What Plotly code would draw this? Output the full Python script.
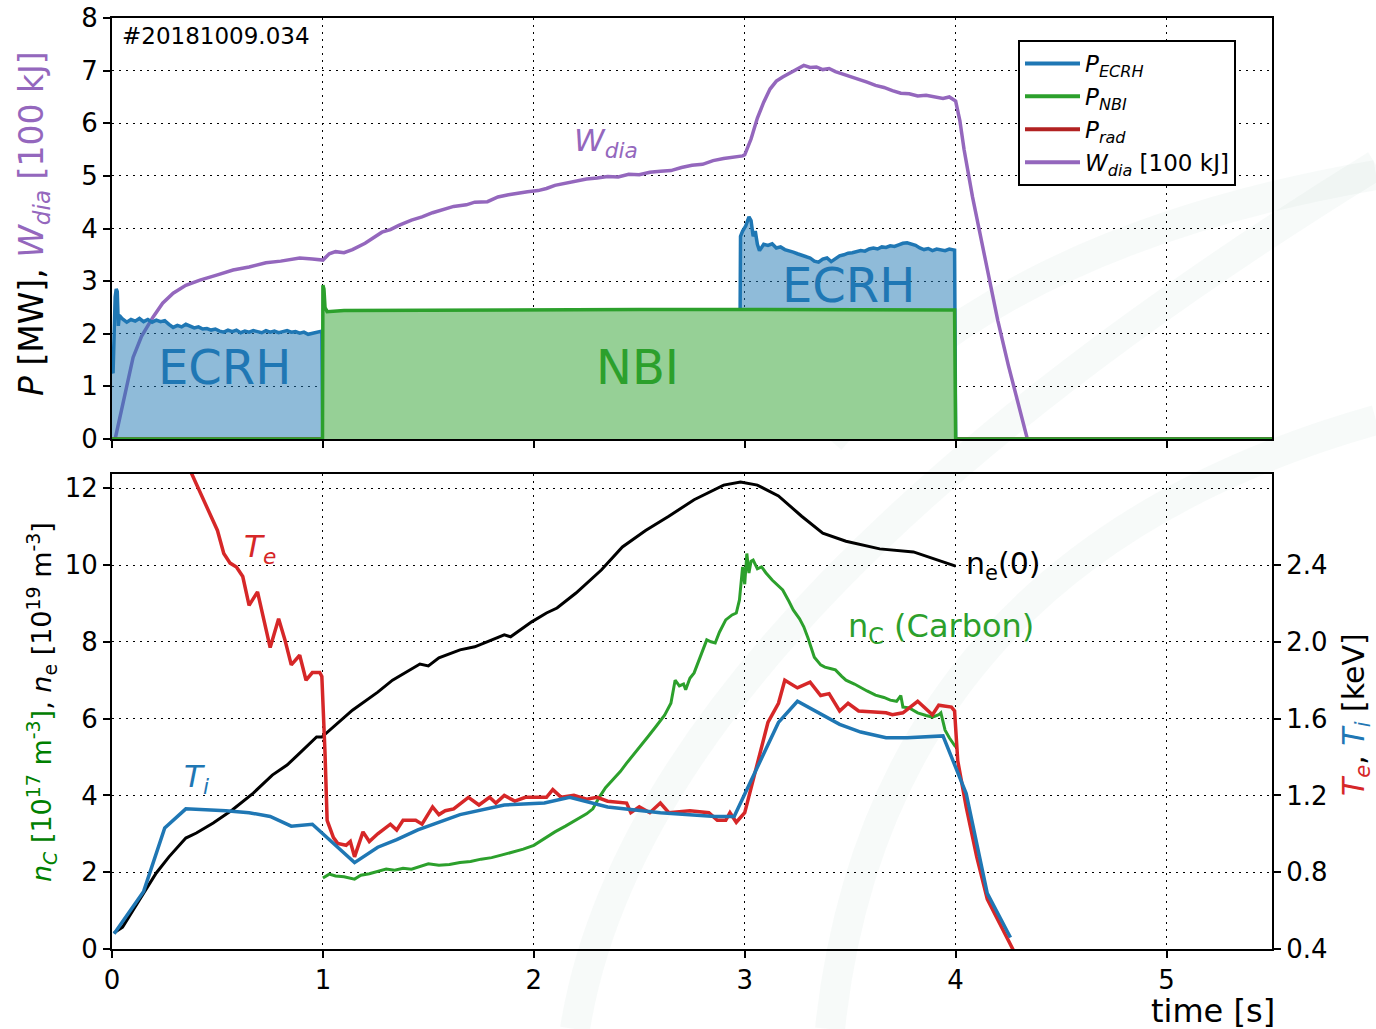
import plotly.graph_objects as go

# ---------------- heating / energy (upper panel) ----------------
ecrh_t = [0.0, 0.005, 0.015, 0.02, 0.025, 0.03, 0.035, 0.05, 0.07, 0.09, 0.11, 0.13, 0.15, 0.17,
          0.19, 0.21, 0.23, 0.25, 0.27, 0.29, 0.31, 0.33, 0.35, 0.37, 0.39, 0.41, 0.43, 0.45,
          0.47, 0.49, 0.51, 0.53, 0.55, 0.57, 0.59, 0.61, 0.63, 0.65, 0.67, 0.69, 0.71, 0.73,
          0.75, 0.77, 0.79, 0.81, 0.83, 0.85, 0.87, 0.89, 0.91, 0.93, 0.95, 0.97, 0.99, 0.995,
          1.0, 2.975, 2.98, 2.99, 3.005, 3.02, 3.03, 3.04, 3.05, 3.06, 3.07, 3.09, 3.11, 3.13,
          3.15, 3.17, 3.19, 3.21, 3.23, 3.25, 3.27, 3.29, 3.31, 3.33, 3.35, 3.37, 3.39, 3.41,
          3.43, 3.45, 3.47, 3.49, 3.51, 3.53, 3.55, 3.57, 3.59, 3.61, 3.63, 3.65, 3.67, 3.69,
          3.71, 3.73, 3.75, 3.77, 3.79, 3.81, 3.83, 3.85, 3.87, 3.89, 3.91, 3.93, 3.95, 3.97,
          3.995, 4.0, 5.5]
ecrh_p = [1.30, 1.25, 2.70, 2.85, 2.80, 2.15, 2.35, 2.28, 2.22, 2.27, 2.24, 2.29, 2.23, 2.27,
          2.22, 2.26, 2.23, 2.25, 2.18, 2.12, 2.16, 2.13, 2.18, 2.14, 2.11, 2.13, 2.09, 2.10,
          2.07, 2.09, 2.05, 2.03, 2.07, 2.04, 2.07, 2.02, 2.05, 2.03, 2.06, 2.04, 2.02, 2.06,
          2.03, 2.05, 2.02, 2.04, 2.06, 2.03, 2.04, 2.01, 2.03, 1.99, 2.01, 2.03, 2.05, 2.05,
          0.0, 0.0, 3.85, 3.95, 4.05, 4.22, 4.15, 3.85, 3.95, 3.70, 3.58, 3.70, 3.68, 3.71,
          3.63, 3.65, 3.60, 3.58, 3.55, 3.52, 3.49, 3.46, 3.44, 3.38, 3.36, 3.42, 3.44, 3.37,
          3.42, 3.48, 3.50, 3.53, 3.54, 3.56, 3.58, 3.57, 3.61, 3.63, 3.61, 3.65, 3.64, 3.67,
          3.66, 3.69, 3.72, 3.73, 3.70, 3.68, 3.63, 3.60, 3.62, 3.58, 3.61, 3.60, 3.58, 3.61,
          3.59, 0.0, 0.0]

nbi_t = [0.0, 0.998, 1.0, 1.005, 1.01, 1.02, 1.1, 1.5, 2.0, 2.5, 3.0, 3.5, 3.995, 4.0, 5.5]
nbi_p = [0.0, 0.0, 2.92, 2.85, 2.50, 2.42, 2.44, 2.45, 2.45, 2.46, 2.46, 2.46, 2.45, 0.0, 0.0]

prad_t = [0.0, 5.5]
prad_p = [0.0, 0.0]

wdia_t = [0.015, 0.06, 0.1, 0.14, 0.195, 0.24, 0.29, 0.35, 0.417, 0.5, 0.574, 0.65, 0.73, 0.8,
          0.89, 0.95, 0.995, 1.0, 1.03, 1.06, 1.1, 1.14, 1.2, 1.25, 1.28, 1.32, 1.36, 1.42,
          1.47, 1.52, 1.57, 1.62, 1.68, 1.72, 1.78, 1.83, 1.88, 1.92, 1.97, 2.02, 2.06, 2.1,
          2.15, 2.2, 2.25, 2.3, 2.35, 2.4, 2.45, 2.5, 2.55, 2.6, 2.65, 2.7, 2.75, 2.8, 2.85,
          2.9, 2.95, 2.99, 3.0, 3.03, 3.06, 3.09, 3.12, 3.15, 3.18, 3.21, 3.25, 3.28, 3.31,
          3.34, 3.37, 3.40, 3.43, 3.46, 3.5, 3.54, 3.58, 3.62, 3.66, 3.70, 3.74, 3.78, 3.82,
          3.86, 3.90, 3.94, 3.97, 4.0, 4.02, 4.04, 4.08, 4.12, 4.16, 4.20, 4.25, 4.30, 4.34, 5.5]
wdia_w = [0.0, 0.80, 1.55, 1.95, 2.32, 2.58, 2.77, 2.92, 3.02, 3.12, 3.21, 3.27, 3.35, 3.38,
          3.44, 3.42, 3.40, 3.40, 3.52, 3.56, 3.54, 3.60, 3.72, 3.85, 3.93, 3.98, 4.06, 4.16,
          4.22, 4.30, 4.36, 4.42, 4.45, 4.50, 4.51, 4.60, 4.64, 4.67, 4.70, 4.72, 4.76, 4.82,
          4.86, 4.90, 4.94, 4.96, 4.99, 4.98, 5.03, 5.02, 5.07, 5.09, 5.10, 5.16, 5.20, 5.22,
          5.29, 5.33, 5.35, 5.38, 5.40, 5.70, 6.10, 6.40, 6.65, 6.80, 6.88, 6.95, 7.04, 7.10,
          7.06, 7.07, 7.02, 7.04, 6.98, 6.94, 6.90, 6.84, 6.78, 6.72, 6.68, 6.62, 6.57, 6.56,
          6.52, 6.53, 6.50, 6.47, 6.50, 6.42, 6.05, 5.50, 4.60, 3.80, 3.05, 2.25, 1.40, 0.60,
          0.0, 0.0]

# ---------------- profiles (lower panel) ----------------
ne_t = [0.01, 0.05, 0.13, 0.21, 0.27, 0.35, 0.40, 0.48, 0.57, 0.67, 0.76, 0.83, 0.89, 0.97,
        0.995, 1.05, 1.14, 1.26, 1.33, 1.46, 1.50, 1.55, 1.65, 1.72, 1.86, 1.89, 1.99, 2.06,
        2.11, 2.20, 2.32, 2.42, 2.53, 2.64, 2.76, 2.90, 2.98, 3.06, 3.16, 3.27, 3.37, 3.48,
        3.64, 3.80, 3.93, 4.0]
ne_v = [0.42, 0.57, 1.28, 1.98, 2.40, 2.89, 3.02, 3.28, 3.62, 4.06, 4.53, 4.79, 5.10, 5.52,
        5.52, 5.78, 6.22, 6.69, 7.00, 7.42, 7.37, 7.58, 7.79, 7.87, 8.18, 8.13, 8.52, 8.75,
        8.88, 9.27, 9.87, 10.47, 10.90, 11.27, 11.70, 12.08, 12.16, 12.08, 11.80, 11.27, 10.83,
        10.62, 10.42, 10.34, 10.10, 9.97]

nc_t = [1.0, 1.03, 1.06, 1.1, 1.15, 1.18, 1.22, 1.26, 1.3, 1.34, 1.38, 1.42, 1.46, 1.5, 1.55,
        1.6, 1.65, 1.7, 1.75, 1.8, 1.85, 1.9, 1.95, 2.0, 2.05, 2.1, 2.15, 2.2, 2.25, 2.28,
        2.31, 2.34, 2.38, 2.41, 2.44, 2.48, 2.51, 2.54, 2.58, 2.62, 2.65, 2.67, 2.69, 2.71,
        2.72, 2.74, 2.76, 2.79, 2.82, 2.84, 2.86, 2.88, 2.91, 2.94, 2.96, 2.975, 2.99, 3.0,
        3.01, 3.02, 3.03, 3.04, 3.06, 3.08, 3.10, 3.13, 3.16, 3.18, 3.21, 3.23, 3.26, 3.28,
        3.30, 3.33, 3.36, 3.38, 3.41, 3.43, 3.46, 3.48, 3.52, 3.55, 3.58, 3.62, 3.66, 3.69,
        3.72, 3.74, 3.75, 3.78, 3.82, 3.86, 3.89, 3.92, 3.93, 3.95, 3.97, 4.0]
nc_v = [1.85, 1.95, 1.90, 1.88, 1.82, 1.92, 1.96, 2.02, 2.08, 2.05, 2.10, 2.08, 2.15, 2.22, 2.18,
        2.20, 2.25, 2.28, 2.34, 2.38, 2.45, 2.52, 2.60, 2.70, 2.88, 3.05, 3.20, 3.36, 3.52, 3.65,
        3.95, 4.20, 4.45, 4.62, 4.84, 5.10, 5.30, 5.52, 5.80, 6.09, 6.40, 7.00, 6.85, 6.90,
        6.75, 7.05, 7.19, 7.60, 8.05, 8.00, 7.97, 8.25, 8.57, 8.70, 8.75, 9.09, 9.95, 9.50,
        10.30, 9.79, 10.10, 10.13, 9.90, 9.95, 9.80, 9.61, 9.45, 9.35, 9.05, 8.83, 8.60, 8.39,
        8.10, 7.60, 7.40, 7.34, 7.30, 7.27, 7.10, 7.00, 6.90, 6.80, 6.72, 6.61, 6.55, 6.48,
        6.45, 6.60, 6.30, 6.28, 6.15, 6.08, 6.04, 6.10, 6.15, 5.70, 5.50, 5.26]

te_t = [0.33, 0.38, 0.50, 0.53, 0.56, 0.59, 0.62, 0.65, 0.69, 0.72, 0.75, 0.79, 0.82, 0.85,
        0.89, 0.92, 0.95, 0.985, 0.995, 1.01, 1.02, 1.05, 1.07, 1.11, 1.13, 1.15, 1.19, 1.22,
        1.26, 1.32, 1.35, 1.38, 1.44, 1.47, 1.52, 1.55, 1.58, 1.62, 1.69, 1.74, 1.79, 1.82,
        1.86, 1.91, 1.96, 2.01, 2.06, 2.09, 2.13, 2.19, 2.25, 2.30, 2.35, 2.44, 2.46, 2.50,
        2.55, 2.60, 2.64, 2.74, 2.83, 2.87, 2.91, 2.93, 2.96, 3.0, 3.04, 3.11, 3.16, 3.19,
        3.25, 3.31, 3.36, 3.40, 3.45, 3.49, 3.54, 3.67, 3.70, 3.75, 3.82, 3.89, 3.92, 3.98,
        3.995, 4.01, 4.05, 4.10, 4.15, 4.21, 4.28]
te_v = [2.98, 2.87, 2.58, 2.46, 2.41, 2.39, 2.34, 2.19, 2.26, 2.11, 1.97, 2.12, 2.01, 1.88,
        1.93, 1.80, 1.84, 1.84, 1.82, 1.42, 1.07, 0.98, 0.95, 0.94, 0.96, 0.88, 1.01, 0.96,
        1.00, 1.05, 1.02, 1.07, 1.07, 1.05, 1.14, 1.10, 1.12, 1.13, 1.19, 1.15, 1.19, 1.16,
        1.20, 1.17, 1.19, 1.19, 1.19, 1.23, 1.19, 1.20, 1.18, 1.19, 1.17, 1.16, 1.11, 1.14,
        1.11, 1.16, 1.11, 1.12, 1.11, 1.07, 1.07, 1.11, 1.06, 1.11, 1.28, 1.58, 1.68, 1.80,
        1.76, 1.79, 1.72, 1.73, 1.64, 1.68, 1.64, 1.63, 1.62, 1.63, 1.69, 1.62, 1.67, 1.66,
        1.64, 1.38, 1.14, 0.88, 0.66, 0.53, 0.38]

ti_t = [0.01, 0.15, 0.25, 0.35, 0.54, 0.65, 0.75, 0.85, 0.95, 1.05, 1.15, 1.26, 1.35, 1.45,
        1.55, 1.65, 1.86, 2.05, 2.17, 2.35, 2.6, 2.86, 2.95, 3.16, 3.25, 3.35, 3.45, 3.55,
        3.67, 3.77, 3.94, 4.05, 4.15, 4.26]
ti_v = [0.48, 0.70, 1.03, 1.13, 1.12, 1.11, 1.09, 1.04, 1.05, 0.95, 0.85, 0.93, 0.97, 1.02,
        1.06, 1.10, 1.15, 1.16, 1.19, 1.14, 1.11, 1.09, 1.09, 1.58, 1.69, 1.63, 1.57, 1.53,
        1.50, 1.50, 1.51, 1.21, 0.69, 0.46]

time_ticks = [0, 1, 2, 3, 4, 5]
p_ticks = [0, 1, 2, 3, 4, 5, 6, 7, 8]
n_ticks = [0, 2, 4, 6, 8, 10, 12]
t_ticks = [0.4, 0.8, 1.2, 1.6, 2.0, 2.4]

BLUE = "#1f77b4"
GREEN = "#2ca02c"
RED = "#d62728"
PURPLE = "#9467bd"
FONT = "DejaVu Sans"
LW = 3.5

W, H = 1376, 1029
ML, MR, MT, MB = 112, 104, 18, 80
PW, PH = W - ML - MR, H - MT - MB


def px(x, y):
    """pixel position on the page -> paper coordinates"""
    return (x - ML) / PW, (H - MB - y) / PH


fig = go.Figure()

# stored energy (drawn first so the translucent ECRH area tints it)
fig.add_trace(go.Scatter(x=wdia_t, y=wdia_w, mode="lines", line=dict(color=PURPLE, width=LW),
                         showlegend=False, xaxis="x", yaxis="y"))
fig.add_trace(go.Scatter(x=ecrh_t, y=ecrh_p, mode="lines", line=dict(color=BLUE, width=LW),
                         fill="tozeroy", fillcolor="rgba(31,119,180,0.5)",
                         showlegend=False, xaxis="x", yaxis="y"))
fig.add_trace(go.Scatter(x=prad_t, y=prad_p, mode="lines", line=dict(color="#b22222", width=LW),
                         showlegend=False, xaxis="x", yaxis="y"))
fig.add_trace(go.Scatter(x=nbi_t, y=nbi_p, mode="lines", line=dict(color=GREEN, width=LW),
                         fill="tozeroy", fillcolor="rgb(150,208,150)",
                         showlegend=False, xaxis="x", yaxis="y"))

# legend keys (line only)
legend_items = [
    ("<i>P</i><sub><i>ECRH</i></sub>", BLUE),
    ("<i>P</i><sub><i>NBI</i></sub>", GREEN),
    ("<i>P</i><sub><i>rad</i></sub>", "#b22222"),
    ("<i>W</i><sub><i>dia</i></sub> [100 kJ]", PURPLE),
]
for name, col in legend_items:
    fig.add_trace(go.Scatter(x=[None], y=[None], mode="lines", name=name,
                             line=dict(color=col, width=4), xaxis="x", yaxis="y"))

# densities (left axis) and temperatures (right axis)
fig.add_trace(go.Scatter(x=ne_t, y=ne_v, mode="lines", line=dict(color="black", width=3),
                         showlegend=False, xaxis="x2", yaxis="y2"))
fig.add_trace(go.Scatter(x=nc_t, y=nc_v, mode="lines", line=dict(color=GREEN, width=3),
                         showlegend=False, xaxis="x2", yaxis="y2"))
fig.add_trace(go.Scatter(x=te_t, y=te_v, mode="lines", line=dict(color=RED, width=LW),
                         showlegend=False, xaxis="x2", yaxis="y3"))
fig.add_trace(go.Scatter(x=ti_t, y=ti_v, mode="lines", line=dict(color=BLUE, width=LW),
                         showlegend=False, xaxis="x2", yaxis="y3"))

TOP_LO = (H - MB - 439) / PH
BOT_HI = (H - MB - 474) / PH
grid = dict(showgrid=True, gridcolor="black", gridwidth=1, griddash="2px,5px")
axis_common = dict(showline=True, linecolor="black", linewidth=2, ticks="outside",
                   ticklen=7, tickwidth=2, tickcolor="black", zeroline=False,
                   automargin=False,
                   tickfont=dict(family=FONT, size=26, color="black"))

fig.update_layout(
    width=W, height=H,
    margin=dict(l=ML, r=MR, t=MT, b=MB, autoexpand=False),
    paper_bgcolor="white", plot_bgcolor="rgba(0,0,0,0)",
    font=dict(family=FONT, color="black"),
    xaxis=dict(domain=[0, 1], anchor="y", range=[0, 5.5], tickvals=time_ticks,
               showticklabels=False, mirror=True, **axis_common, **grid),
    yaxis=dict(domain=[TOP_LO, 1], anchor="x", range=[0, 8], tickvals=p_ticks,
               mirror=True, **axis_common, **grid),
    xaxis2=dict(domain=[0, 1], anchor="y2", range=[0, 5.5], tickvals=time_ticks,
                matches="x", mirror=True, **axis_common, **grid),
    yaxis2=dict(domain=[0, BOT_HI], anchor="x2", range=[0, 12.37], tickvals=n_ticks,
                **axis_common, **grid),
    yaxis3=dict(overlaying="y2", side="right", anchor="x2", range=[0.4, 2.874],
                tickvals=t_ticks, tickformat=".1f", showgrid=False, **axis_common),
    legend=dict(x=px(1018, 40)[0], y=px(1018, 40)[1], xanchor="left", yanchor="top",
                bgcolor="white", bordercolor="black", borderwidth=2,
                font=dict(family=FONT, size=23, color="black"),
                tracegroupgap=0, itemwidth=55),
)

ann = []


def label(text, x, y, xref, yref, size, color="black", xanchor="center", yanchor="middle", angle=0):
    ann.append(dict(text=text, x=x, y=y, xref=xref, yref=yref, showarrow=False,
                    xanchor=xanchor, yanchor=yanchor, textangle=angle,
                    font=dict(family=FONT, size=size, color=color)))


# labels inside the upper panel
label("#20181009.034", 0.04, 7.66, "x", "y", 23, xanchor="left")
label("<i>W</i><sub><i>dia</i></sub>", 2.34, 5.63, "x", "y", 31, PURPLE)
label("ECRH", 0.535, 1.37, "x", "y", 48, BLUE)
label("NBI", 2.49, 1.37, "x", "y", 48, GREEN)
label("ECRH", 3.49, 2.93, "x", "y", 48, BLUE)

# labels inside the lower panel
label("<i>T</i><sub><i>e</i></sub>", 0.70, 10.44, "x2", "y2", 31, RED)
label("<i>T</i><sub><i>i</i></sub>", 0.40, 4.45, "x2", "y2", 31, BLUE)
label("n<sub>e</sub>(0)", 4.04, 10.0, "x2", "y2", 30, xanchor="left")
label("n<sub>C</sub> (Carbon)", 3.48, 8.36, "x2", "y2", 32, GREEN, xanchor="left")

# axis titles
x0, y0 = px(33, 224)
label("<i>P</i> [MW], <span style='color:#9467bd'><i>W</i><sub><i>dia</i></sub> [100 kJ]</span>",
      x0, y0, "paper", "paper", 33, angle=-90)
x0, y0 = px(42, 702)
label("<span style='color:#008000'><i>n</i><sub><i>C</i></sub> [10<sup>17</sup> m<sup>-3</sup>]</span>"
      ", <i>n</i><sub>e</sub> [10<sup>19</sup> m<sup>-3</sup>]",
      x0, y0, "paper", "paper", 27, angle=-90)
x0, y0 = px(1355, 715)
label("<span style='color:#d62728'><i>T</i><sub><i>e</i></sub></span>, "
      "<span style='color:#1f77b4'><i>T</i><sub><i>i</i></sub></span> [keV]",
      x0, y0, "paper", "paper", 30, angle=-90)
x0, y0 = px(1277, 1011)
label("time [s]", x0, y0, "paper", "paper", 32, xanchor="right")

fig.update_layout(annotations=ann)

# faint background emblem arcs
shapes = []
arcs = [
    [(575, 1029), (640, 620), (1376, 165)],
    [(830, 1029), (880, 560), (1376, 420)],
    [(830, 440), (1000, 240), (1376, 175)],
]
for (a, b, c) in arcs:
    pa, pb, pc = px(*a), px(*b), px(*c)
    shapes.append(dict(type="path", xref="paper", yref="paper", layer="below",
                       path=f"M {pa[0]},{pa[1]} Q {pb[0]},{pb[1]} {pc[0]},{pc[1]}",
                       line=dict(color="rgba(200,218,210,0.14)", width=30)))
fig.update_layout(shapes=shapes)

fig.write_html("out.html")
